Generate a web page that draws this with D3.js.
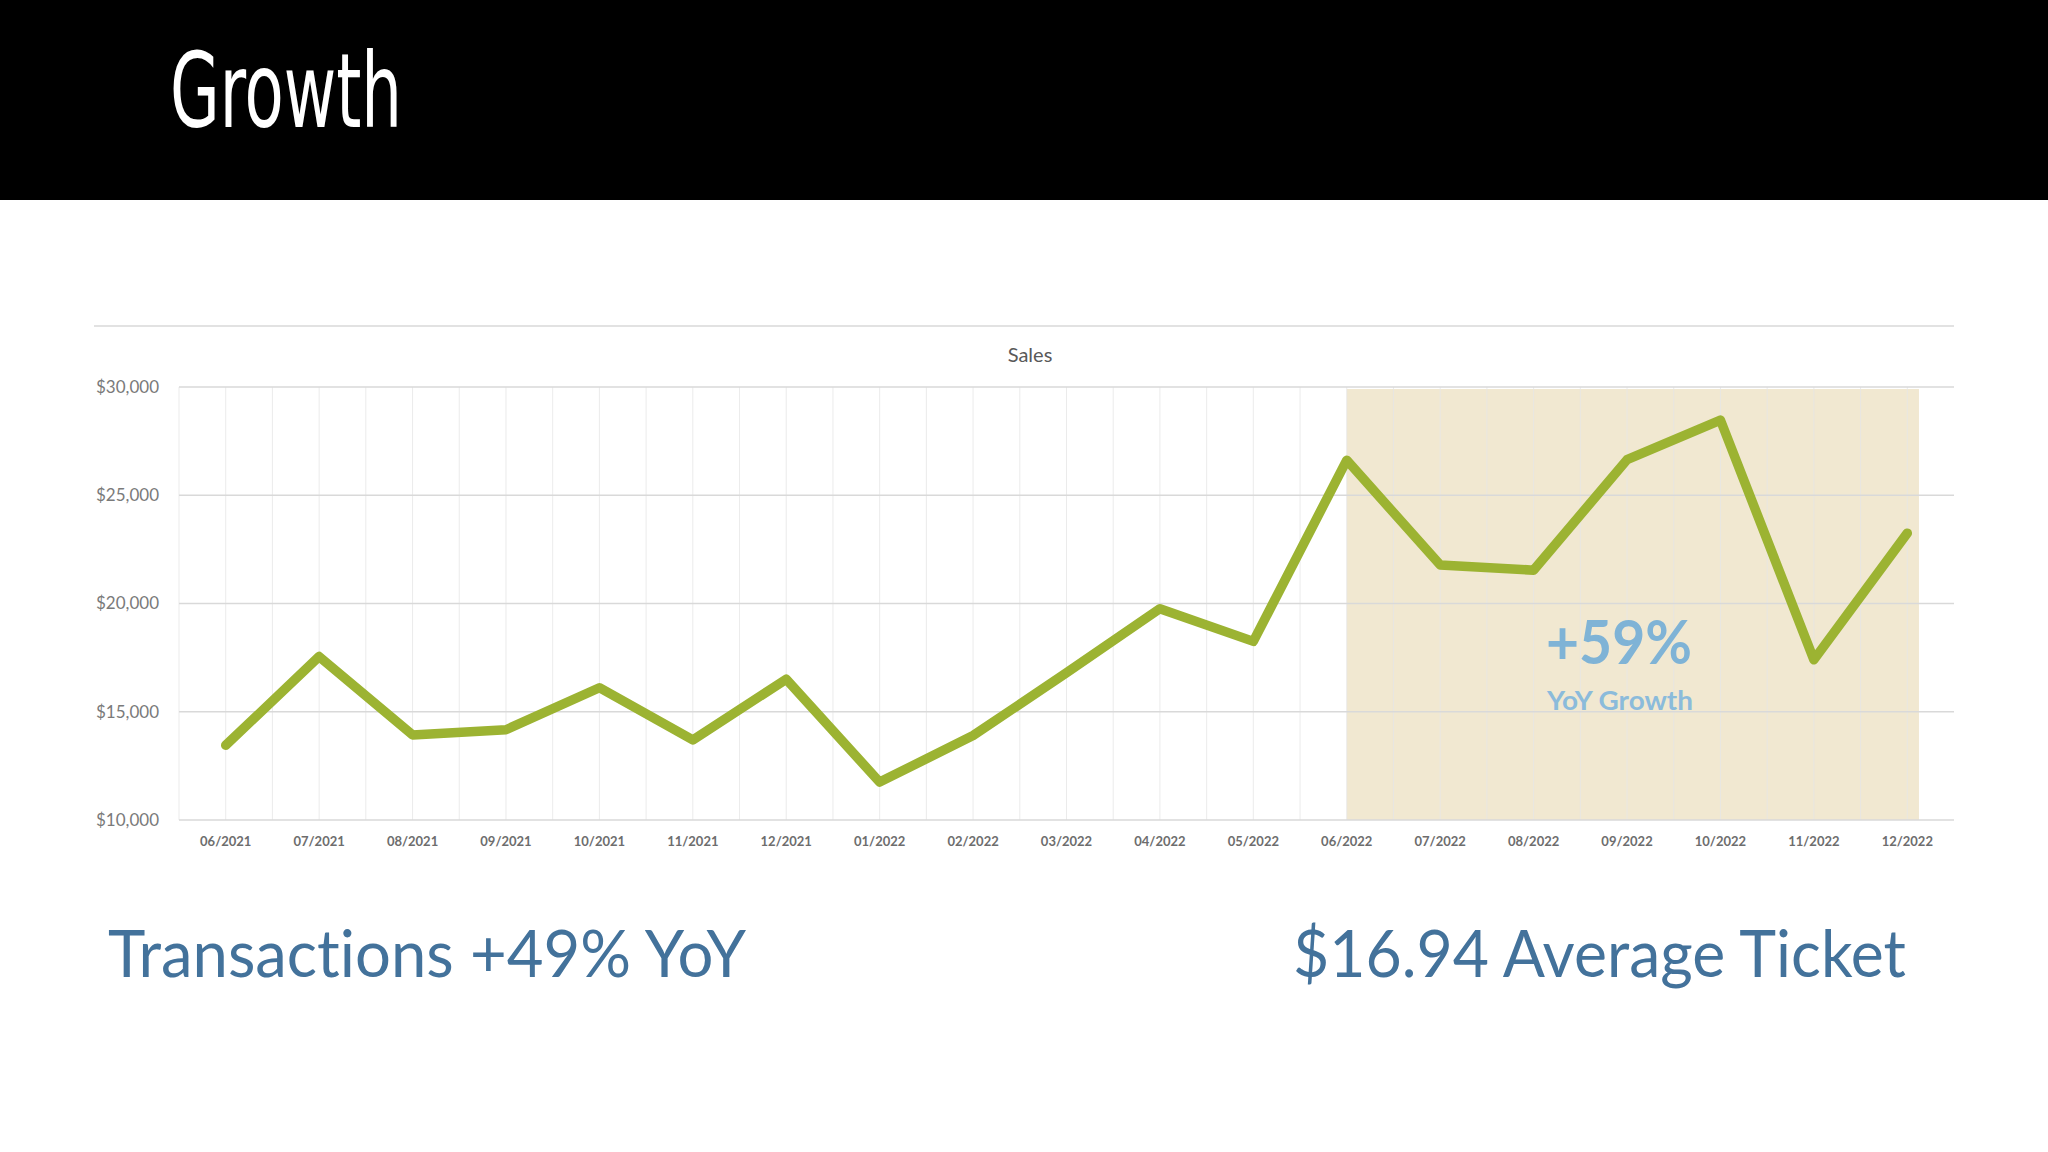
<!DOCTYPE html>
<html>
<head>
<meta charset="utf-8">
<script src="https://cdn.jsdelivr.net/npm/d3@7"></script>
<style>
  body { margin: 0; background: #fff; }
  svg { display: block; }
  text { font-variant-ligatures: none; font-feature-settings: "liga" 0, "clig" 0; }
</style>
</head>
<body>
<div id="chart"></div>
<script>
// Data
const months = ["06/2021", "07/2021", "08/2021", "09/2021", "10/2021", "11/2021", "12/2021",
  "01/2022", "02/2022", "03/2022", "04/2022", "05/2022", "06/2022", "07/2022", "08/2022",
  "09/2022", "10/2022", "11/2022", "12/2022"];
const sales = [13450, 17550, 13930, 14170, 16110, 13700, 16500, 11750, 13900, 16800, 19760,
  18250, 26620, 21780, 21540, 26640, 28470, 17400, 23250];
const yTicks = [10000, 15000, 20000, 25000, 30000];
const highlight = ["06/2022", "12/2022"];

const W = 2048, H = 1152;
const margin = { top: 387, right: 94, bottom: 332, left: 179 };

const svg = d3.select("#chart").append("svg")
  .attr("width", W)
  .attr("height", H);

// Header bar
svg.append("rect")
  .attr("width", W).attr("height", 200)
  .attr("fill", "#000");

svg.append("text")
  .attr("x", 170).attr("y", 127)
  .attr("font-family", "'Liberation Sans Narrow', 'DejaVu Sans Condensed', sans-serif")
  .attr("font-size", 104)
  .attr("textLength", 232)
  .attr("lengthAdjust", "spacingAndGlyphs")
  .attr("fill", "#fff")
  .text("Growth");

// Chart frame top line and title
svg.append("line")
  .attr("x1", 94).attr("x2", 1954)
  .attr("y1", 326).attr("y2", 326)
  .attr("stroke", "#d9d9d9").attr("stroke-width", 1.5);

svg.append("text")
  .attr("x", 1030).attr("y", 362)
  .attr("text-anchor", "middle")
  .attr("font-family", "Lato, 'Open Sans', sans-serif")
  .attr("font-size", 20)
  .attr("fill", "#595959")
  .text("Sales");

// Scales
const x = d3.scaleBand()
  .domain(months)
  .range([margin.left, W - margin.right]);
const bw = x.bandwidth();
const cx = m => x(m) + bw / 2;

const y = d3.scaleLinear()
  .domain([10000, 30000])
  .range([H - margin.bottom, margin.top]);

// Highlighted period
svg.append("rect")
  .attr("x", cx(highlight[0]))
  .attr("y", y(30000) + 2)
  .attr("width", cx(highlight[1]) + bw * 0.125 - cx(highlight[0]))
  .attr("height", y(10000) - y(30000) - 2)
  .attr("fill", "#f1e8d1");

// Vertical gridlines at band edges and centres
const vLines = [];
months.forEach(m => { vLines.push(x(m)); vLines.push(cx(m)); });
svg.append("g")
  .selectAll("line")
  .data(vLines)
  .join("line")
  .attr("x1", d => d).attr("x2", d => d)
  .attr("y1", y(30000)).attr("y2", y(10000))
  .attr("stroke", "#e6e6e6").attr("stroke-opacity", 0.8).attr("stroke-width", 1);

// Horizontal gridlines
svg.append("g")
  .selectAll("line")
  .data(yTicks)
  .join("line")
  .attr("x1", margin.left).attr("x2", W - margin.right)
  .attr("y1", d => y(d)).attr("y2", d => y(d))
  .attr("stroke", "#d9d9d9").attr("stroke-width", 1.5);

// Axes
const yAxis = svg.append("g")
  .attr("transform", `translate(${margin.left},0)`)
  .call(d3.axisLeft(y).tickValues(yTicks).tickSize(0).tickPadding(20).tickFormat(d3.format("$,")));
yAxis.select(".domain").remove();
yAxis.selectAll("text")
  .attr("font-family", "Lato, 'Open Sans', sans-serif")
  .attr("font-size", 17)
  .attr("fill", "#7a7a7a");

const xAxis = svg.append("g")
  .attr("transform", `translate(0,${y(10000)})`)
  .call(d3.axisBottom(x).tickSize(0).tickPadding(17));
xAxis.select(".domain").remove();
xAxis.selectAll("text")
  .attr("font-family", "Lato, 'Open Sans', sans-serif")
  .attr("font-size", 13)
  .attr("font-weight", "bold")
  .attr("fill", "#6d6d6d");

// Sales line
const line = d3.line()
  .x((d, i) => cx(months[i]))
  .y(d => y(d));

svg.append("path")
  .datum(sales)
  .attr("d", line)
  .attr("fill", "none")
  .attr("stroke", "#9cb332")
  .attr("stroke-width", 9.5)
  .attr("stroke-linejoin", "round")
  .attr("stroke-linecap", "round");

// Callout
svg.append("text")
  .attr("x", 1619).attr("y", 664)
  .attr("text-anchor", "middle")
  .attr("font-family", "Lato, 'Open Sans', sans-serif")
  .attr("font-weight", "bold")
  .attr("font-size", 62)
  .attr("textLength", 146)
  .attr("lengthAdjust", "spacingAndGlyphs")
  .attr("fill", "#7fb3d6")
  .text("+59%");

svg.append("text")
  .attr("x", 1620).attr("y", 710)
  .attr("text-anchor", "middle")
  .attr("font-family", "Lato, 'Open Sans', sans-serif")
  .attr("font-weight", "bold")
  .attr("font-size", 26)
  .attr("textLength", 146)
  .attr("lengthAdjust", "spacingAndGlyphs")
  .attr("fill", "#8bbbdb")
  .text("YoY Growth");

// Bottom statements
svg.append("text")
  .attr("x", 108).attr("y", 977)
  .attr("font-family", "Lato, 'Open Sans', sans-serif")
  .attr("font-size", 66)
  .attr("textLength", 638)
  .attr("lengthAdjust", "spacingAndGlyphs")
  .attr("fill", "#43729b")
  .text("Transactions +49% YoY");

svg.append("text")
  .attr("x", 1293).attr("y", 977)
  .attr("font-family", "Lato, 'Open Sans', sans-serif")
  .attr("font-size", 66)
  .attr("textLength", 613)
  .attr("lengthAdjust", "spacingAndGlyphs")
  .attr("fill", "#43729b")
  .text("$16.94 Average Ticket");
</script>
</body>
</html>
